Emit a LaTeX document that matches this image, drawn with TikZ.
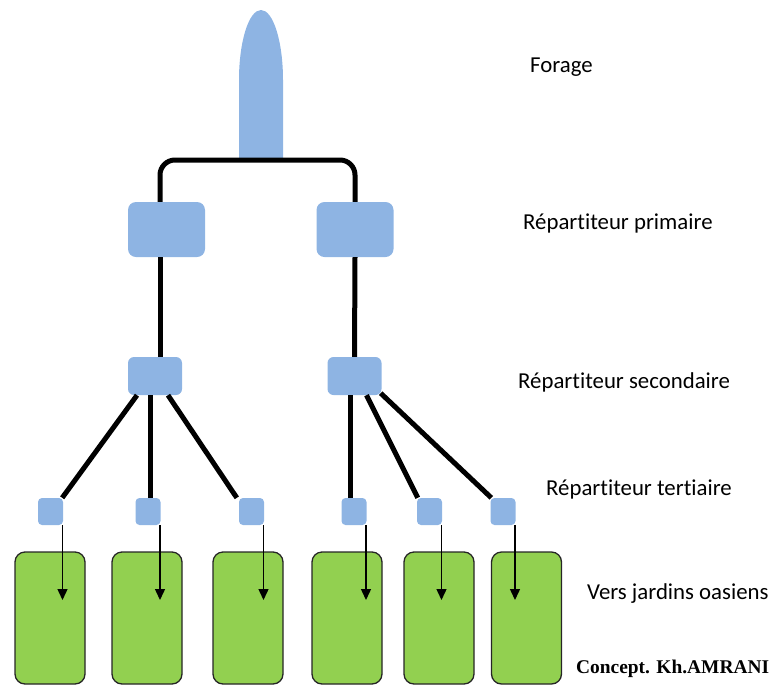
\documentclass[tikz,border=0pt]{standalone}
\usepackage{fontspec}
\setmainfont{Carlito}[Ligatures=NoCommon]
\newfontfamily\serifbold{Liberation Serif}
\usetikzlibrary{arrows.meta}
\definecolor{boxblue}{HTML}{8EB4E3}
\definecolor{gardengreen}{HTML}{92D050}
\tikzset{
  pipe/.style={line width=5pt, black},
  feed/.style={line width=1.4pt, black, -{Triangle[length=11pt,width=10pt]}},
  primbox/.style={fill=boxblue, draw=none, rounded corners=8pt, minimum width=77pt, minimum height=55pt, inner sep=0pt},
  secbox/.style={fill=boxblue, draw=none, rounded corners=6pt, minimum width=54pt, minimum height=38pt, inner sep=0pt},
  terbox/.style={fill=boxblue, draw=none, rounded corners=4pt, minimum width=25pt, minimum height=27pt, inner sep=0pt},
  garden/.style={fill=gardengreen, draw=black!85, line width=1.3pt, rounded corners=10pt, minimum width=70pt, minimum height=132pt, inner sep=0pt},
  lbl/.style={anchor=base west, inner sep=0pt, font=\fontsize{22.8}{26}\selectfont}
}
\begin{document}
\begin{tikzpicture}[x=1pt,y=-1pt]
\useasboundingbox (0,0) rectangle (774,686);
% forage
\fill[boxblue] (239,160) -- (239,80) arc[start angle=180,end angle=0,x radius=22pt,y radius=70pt] -- (283,160) -- cycle;
\coordinate (forage) at (261,160);
% primary
\node[primbox] (p1) at (166.5,229.5) {};
\node[primbox] (p2) at (355,229.5) {};
% secondary
\node[secbox] (s1) at (155,376) {};
\node[secbox] (s2) at (354.5,376) {};
% tertiary
\node[terbox] (t1) at (50.5,511.5) {};
\node[terbox] (t2) at (148,511.5) {};
\node[terbox] (t3) at (251.5,511.5) {};
\node[terbox] (t4) at (354,511.5) {};
\node[terbox] (t5) at (429.5,511.5) {};
\node[terbox] (t6) at (503,511.5) {};
% gardens
\node[garden] (g1) at (50,618) {};
\node[garden] (g2) at (147,618) {};
\node[garden] (g3) at (248,618) {};
\node[garden] (g4) at (347,618) {};
\node[garden] (g5) at (439,618) {};
\node[garden] (g6) at (526.5,618) {};
% pipes
\draw[pipe, rounded corners=15pt] ([xshift=-6.5pt]p1.north) |- (forage) -| (p2.north);
\draw[pipe] ([xshift=-6.5pt]p1.south) -- ([xshift=5pt]s1.north);
\draw[pipe] (p2.south) -- (s2.north);
\draw[pipe] ([xshift=-18pt]s1.south) -- ([xshift=-1pt]t1.north east);
\draw[pipe] ([xshift=-5pt]s1.south) -- ([xshift=2pt]t2.north);
\draw[pipe] ([xshift=13pt]s1.south) -- ([xshift=-2pt]t3.north west);
\draw[pipe] ([xshift=-4.5pt]s2.south) -- ([xshift=-4pt]t4.north);
\draw[pipe] ([xshift=12pt]s2.south) -- ([xshift=1pt]t5.north west);
\draw[pipe] ([xshift=-1pt,yshift=2pt]s2.south east) -- ([xshift=1pt]t6.north west);
% feeds
\foreach \i in {1,...,6}{
  \draw[feed] ([xshift=-0.7pt]t\i.south east) -- ([xshift=-0.7pt]t\i.south east |- 0,600);
}
% labels
\node[lbl] (lf) at (530,72) {Forage};
\node[lbl] (lp) at (523,229) {Répartiteur primaire};
\node[lbl] (ls) at (518,388) {Répartiteur secondaire};
\node[lbl] (lt) at (546,495) {Répartiteur tertiaire};
\node[lbl] (lv) at (587,599) {Vers jardins oasiens};
\node[anchor=base west, inner sep=0pt, font=\serifbold\bfseries\fontsize{19.4}{22}\selectfont] (lc) at (576,673) {Concept. Kh.AMRANI};
\end{tikzpicture}
\end{document}
